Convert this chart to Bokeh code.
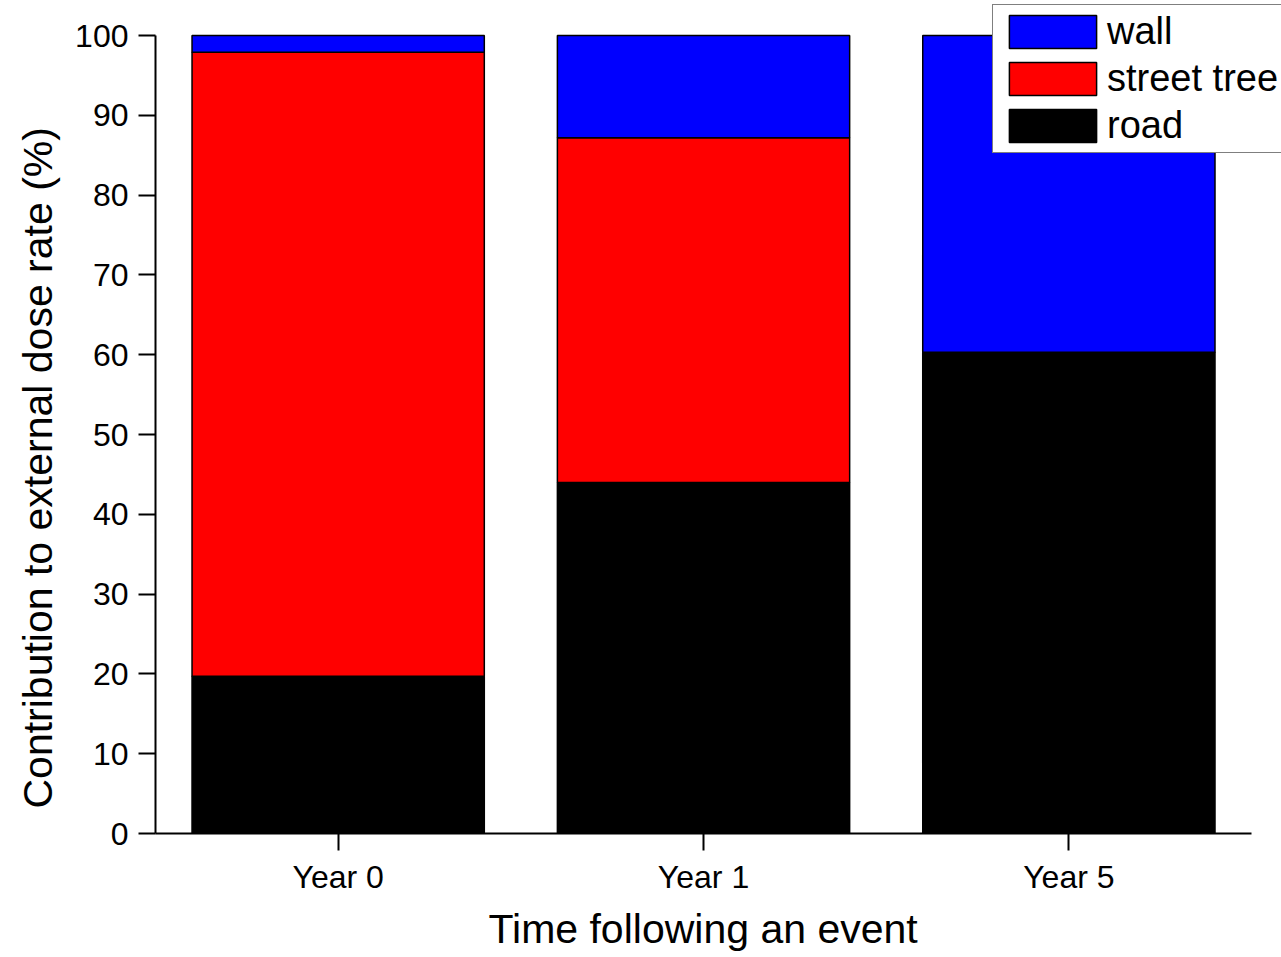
from bokeh.plotting import figure
from bokeh.models import ColumnDataSource, Legend, LegendItem, FixedTicker, Title
from bokeh.embed import file_html
from bokeh.resources import INLINE

years = ["Year 0", "Year 1", "Year 5"]
road = [19.7, 44.0, 60.3]
street_tree = [78.2, 43.2, 0.0]
wall = [2.1, 12.8, 39.7]
y_ticks = [0, 10, 20, 30, 40, 50, 60, 70, 80, 90, 100]

xpos = list(range(len(years)))
source = ColumnDataSource(dict(x=xpos, road=road, street_tree=street_tree, wall=wall))

# frame reaches the canvas top/right so the legend can sit there unclipped like the reference
p = figure(x_range=(-0.5, 2.582), y_range=(0, 104.4), width=1281, height=957,
           output_backend="svg", toolbar_location=None,
           min_border_left=155, min_border_right=0, min_border_top=0, min_border_bottom=124)

renderers = p.vbar_stack(["road", "street_tree", "wall"], x="x", width=0.8, source=source,
                         color=["#000000", "#ff0000", "#0000ff"], line_color="black", line_width=1.5)

FONT = "Liberation Sans"
p.outline_line_color = None
p.xgrid.visible = False
p.ygrid.visible = False

for ax in (p.xaxis[0], p.yaxis[0]):
    ax.axis_line_width = 2
    ax.major_tick_line_width = 2
    ax.major_tick_out = 17
    ax.major_tick_in = 0
    ax.minor_tick_line_color = None
    ax.major_label_text_font = FONT
    ax.major_label_text_font_size = "32px"
    ax.major_label_text_color = "black"

p.yaxis.ticker = FixedTicker(ticks=y_ticks)
p.yaxis.bounds = (0, 100)
p.yaxis.major_label_standoff = 10

p.xaxis.ticker = FixedTicker(ticks=xpos)
p.xaxis.major_label_overrides = {i: y for i, y in zip(xpos, years)}
p.xaxis.bounds = (-0.5, 2.5)
p.xaxis.major_label_standoff = 8

ytitle = Title(text="Contribution to external dose rate (%)", align="left", offset=25,
               standoff=24, text_font=FONT, text_font_size="41px", text_font_style="normal",
               text_color="black")
p.add_layout(ytitle, "left")
xtitle = Title(text="Time following an event", align="left", offset=333,
               standoff=12, text_font=FONT, text_font_size="41px", text_font_style="normal",
               text_color="black")
p.add_layout(xtitle, "below")

legend = Legend(items=[LegendItem(label="wall", renderers=[renderers[2]]),
                       LegendItem(label="street tree", renderers=[renderers[1]]),
                       LegendItem(label="road", renderers=[renderers[0]])],
                location=(837, 680))
legend.label_text_font = FONT
legend.label_text_font_size = "38px"
legend.label_text_color = "black"
legend.glyph_width = 109
legend.glyph_height = 41
legend.spacing = 4
legend.padding = 5
legend.margin = 0
legend.label_standoff = 0
legend.label_height = 33
legend.border_line_color = "black"
legend.border_line_width = 1.5
legend.background_fill_alpha = 1.0
p.add_layout(legend, "center")

open("out.html", "w").write(file_html(p, INLINE))
